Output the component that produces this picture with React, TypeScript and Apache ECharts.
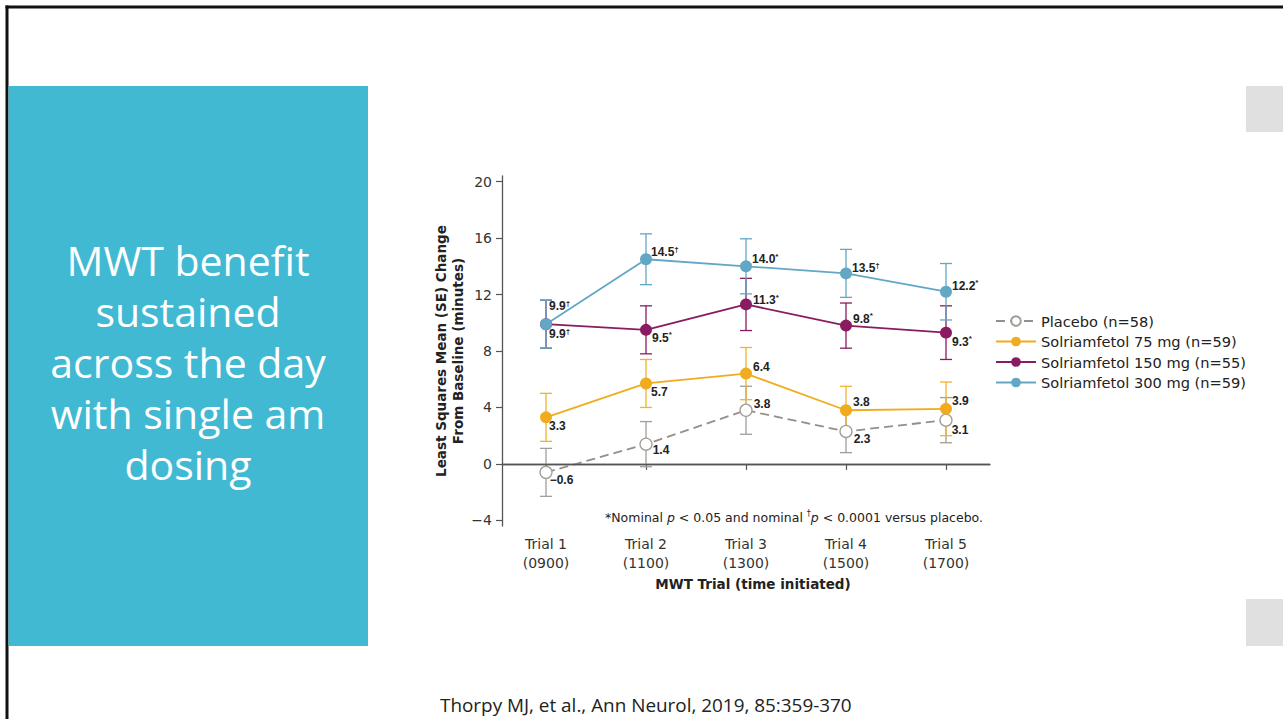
import React, { useEffect, useRef } from "react";
import * as echarts from "echarts";

// ---- data ----
const trialLabels = ["Trial 1\n(0900)", "Trial 2\n(1100)", "Trial 3\n(1300)", "Trial 4\n(1500)", "Trial 5\n(1700)"];
const trialIndex = [1, 2, 3, 4, 5];
const yTicks = [-4, 0, 4, 8, 12, 16, 20];

const seriesNames = ["Placebo (n=58)", "Solriamfetol 75 mg (n=59)", "Solriamfetol 150 mg (n=55)", "Solriamfetol 300 mg (n=59)"];

const placeboMean = [-0.6, 1.4, 3.8, 2.3, 3.1];
const placeboSE = [1.7, 1.6, 1.7, 1.5, 1.6];
const placeboSig = ["", "", "", "", ""];

const mg75Mean = [3.3, 5.7, 6.4, 3.8, 3.9];
const mg75SE = [1.7, 1.7, 1.85, 1.7, 1.9];
const mg75Sig = ["", "", "", "", ""];

const mg150Mean = [9.9, 9.5, 11.3, 9.8, 9.3];
const mg150SE = [1.7, 1.7, 1.85, 1.6, 1.9];
const mg150Sig = ["†", "*", "*", "*", "*"];

const mg300Mean = [9.9, 14.5, 14.0, 13.5, 12.2];
const mg300SE = [1.7, 1.8, 1.95, 1.7, 2.0];
const mg300Sig = ["†", "†", "*", "†", "*"];

const footnoteParts = ["*Nominal ", "p", " < 0.05 and nominal ", "†", "p", " < 0.0001 versus placebo."];
const slideTitle = "MWT benefit\nsustained\nacross the day\nwith single am\ndosing";
const citation = "Thorpy MJ, et al., Ann Neurol, 2019, 85:359-370";

// ---- styling (label offsets relative to the point: [dx of label left edge, dy of label centre]) ----
const labelOffsets = [
  [[3, 8], [6, 6], [7, -6], [7, 8], [5, 10]],
  [[3, 9], [5, 9], [7, -7], [7, -8], [6, -8]],
  [[3, 10], [6, 8], [7, -4], [7, -7], [6, 9]],
  [[3, -18], [5, -7], [6, -7], [6, -5], [6, -6]],
];
const colors = ["#968e88", "#f0ac1e", "#8a1b61", "#62a8c5"];
const errColors = ["#a39d98", "#f0b42e", "#8a1b61", "#62a8c5"];

const FONT = "'Liberation Sans', Arial, Helvetica, sans-serif";
const WFONT = "'DejaVu Sans', sans-serif";

export default function App() {
  const ref = useRef<HTMLDivElement>(null);
  useEffect(() => {
    if (!ref.current) return;
    const chart = echarts.init(ref.current, undefined, { renderer: "svg" });

    const means = [placeboMean, mg75Mean, mg150Mean, mg300Mean];
    const ses = [placeboSE, mg75SE, mg150SE, mg300SE];
    const sigs = [placeboSig, mg75Sig, mg150Sig, mg300Sig];
    const symSize = 12;

    const fmtNum = (v: number) => (v < 0 ? "\u2212" + Math.abs(v).toFixed(1) : v.toFixed(1));

    const errSeries = means.map((m, si) => ({
      type: "custom",
      name: "err" + si,
      silent: true,
      z: 1,
      data: m.map((v, i) => [trialIndex[i], v - ses[si][i], v + ses[si][i]]),
      encode: { x: 0, y: [1, 2] },
      renderItem: (params: any, api: any) => {
        const x = api.value(0);
        const lo = api.coord([x, api.value(1)]);
        const hi = api.coord([x, api.value(2)]);
        const w = 6;
        const style = { stroke: errColors[si], lineWidth: 1.3 };
        return {
          type: "group",
          children: [
            { type: "line", shape: { x1: lo[0], y1: lo[1], x2: hi[0], y2: hi[1] }, style },
            { type: "line", shape: { x1: lo[0] - w, y1: lo[1], x2: lo[0] + w, y2: lo[1] }, style },
            { type: "line", shape: { x1: hi[0] - w, y1: hi[1], x2: hi[0] + w, y2: hi[1] }, style },
          ],
        };
      },
    }));

    const lineSeries = means.map((m, si) => ({
      type: "line",
      name: seriesNames[si],
      z: 3,
      symbol: "circle",
      symbolSize: symSize,
      showAllSymbol: true,
      lineStyle: si === 0 ? { color: colors[0], width: 1.8, type: [9, 5] } : { color: colors[si], width: 1.8 },
      itemStyle:
        si === 0
          ? { color: "#ffffff", borderColor: "#a39d98", borderWidth: 1.3 }
          : { color: colors[si], borderWidth: 0 },
      emphasis: { disabled: true },
      data: m.map((v, i) => ({
        value: [trialIndex[i], v],
        label: {
          show: true,
          position: "right",
          distance: 0,
          offset: [labelOffsets[si][i][0] - symSize / 2, labelOffsets[si][i][1]],
          formatter: () => `{n|${fmtNum(v)}}` + (sigs[si][i] ? `{s|${sigs[si][i]}}` : ""),
          rich: {
            n: { fontFamily: FONT, fontSize: 12, fontWeight: "bold", color: "#222", lineHeight: 14 },
            s: { fontFamily: FONT, fontSize: 8, fontWeight: "bold", color: "#222", verticalAlign: "top", lineHeight: 14, padding: [0, 0, 4, 0] },
          },
        },
      })),
      markLine:
        si === 0
          ? {
              silent: true,
              symbol: "none",
              label: { show: false },
              lineStyle: { color: "#555", width: 1.3, type: "solid" },
              data: [{ yAxis: 0 }],
            }
          : undefined,
    }));

    const option: any = {
      animation: false,
      backgroundColor: "#ffffff",
      grid: { left: 502, right: 293, top: 176, bottom: 193, containLabel: false, outerBoundsMode: "none" },
      xAxis: {
        type: "value",
        min: 0.56,
        max: 5.44,
        name: "MWT Trial (time initiated)",
        nameLocation: "middle",
        nameGap: 51,
        nameTextStyle: { fontFamily: WFONT, fontSize: 13.5, fontWeight: "bold", color: "#222", padding: [0, 0, 0, 14] },
        axisLine: { show: true, lineStyle: { color: "#555", width: 1.3 } },
        axisTick: { show: true, length: 6, lineStyle: { color: "#555", width: 1.2 }, customValues: trialIndex },
        axisLabel: {
          customValues: trialIndex,
          formatter: (v: number) => trialLabels[Math.round(v) - 1] || "",
          fontFamily: WFONT,
          fontSize: 14,
          color: "#333",
          lineHeight: 19,
          margin: 8,
        },
        splitLine: { show: false },
      },
      yAxis: {
        type: "value",
        min: -4.4,
        max: 20.4,
        name: "Least Squares Mean (SE) Change\nFrom Baseline (minutes)",
        nameLocation: "middle",
        nameRotate: 90,
        nameGap: 36,
        nameTextStyle: { fontFamily: WFONT, fontSize: 13.5, fontWeight: "bold", color: "#222", lineHeight: 17 },
        axisLine: { show: true, lineStyle: { color: "#555", width: 1.3 } },
        axisTick: { show: true, length: 6, lineStyle: { color: "#555", width: 1.2 }, customValues: yTicks },
        axisLabel: {
          customValues: yTicks,
          formatter: (v: number) => (v < 0 ? "\u2212" + Math.abs(v) : String(v)),
          fontFamily: WFONT,
          fontSize: 14,
          color: "#333",
          margin: 10,
        },
        splitLine: { show: false },
      },
      legend: {
        orient: "vertical",
        left: 995,
        top: 313,
        padding: 0,
        itemWidth: 40,
        itemHeight: 12,
        itemGap: 4.5,
        data: seriesNames,
        textStyle: { fontFamily: WFONT, fontSize: 14.6, color: "#222", lineHeight: 16 },
        selectedMode: false,
      },
      graphic: [
        { type: "line", shape: { x1: 5.5, y1: 7, x2: 1283, y2: 7 }, style: { stroke: "#111", lineWidth: 3 }, silent: true },
        { type: "line", shape: { x1: 7, y1: 5.5, x2: 7, y2: 719 }, style: { stroke: "#111", lineWidth: 3 }, silent: true },
        { type: "rect", shape: { x: 8.5, y: 86, width: 359.5, height: 560 }, style: { fill: "#41b9d3" }, silent: true },
        {
          type: "text",
          x: 188,
          y: 362,
          silent: true,
          style: {
            text: slideTitle,
            fill: "#ffffff",
            fontFamily: "'Open Sans', sans-serif",
            fontSize: 41,
            lineHeight: 51,
            align: "center",
            verticalAlign: "middle",
          },
        },
        { type: "rect", shape: { x: 1246, y: 86, width: 37, height: 46 }, style: { fill: "#e0e0e0" }, silent: true },
        { type: "rect", shape: { x: 1246, y: 599, width: 37, height: 47 }, style: { fill: "#e0e0e0" }, silent: true },
        {
          type: "text",
          x: 440,
          y: 705,
          silent: true,
          style: {
            text: citation,
            fill: "#222",
            fontFamily: "'Open Sans', sans-serif",
            fontSize: 18.9,
            verticalAlign: "middle",
            align: "left",
          },
        },
        {
          type: "text",
          x: 983,
          y: 517,
          silent: true,
          style: {
            text:
              `{r|${footnoteParts[0]}}{i|${footnoteParts[1]}}{r|${footnoteParts[2]}}{s|${footnoteParts[3]}}{i|${footnoteParts[4]}}{r|${footnoteParts[5]}}`,
            align: "right",
            verticalAlign: "middle",
            rich: {
              r: { fontFamily: WFONT, fontSize: 12.5, fill: "#222", lineHeight: 16 },
              i: { fontFamily: WFONT, fontSize: 12.5, fill: "#222", fontStyle: "italic", lineHeight: 16 },
              s: { fontFamily: WFONT, fontSize: 8, fill: "#222", verticalAlign: "top", lineHeight: 16 },
            },
          },
        },
      ],
      series: [...errSeries, ...lineSeries],
    };

    chart.setOption(option);
    return () => chart.dispose();
  }, []);

  return (
    <div
      ref={ref}
      style={{ position: "fixed", left: 0, top: 0, width: 1283, height: 719, background: "#fff" }}
    />
  );
}
